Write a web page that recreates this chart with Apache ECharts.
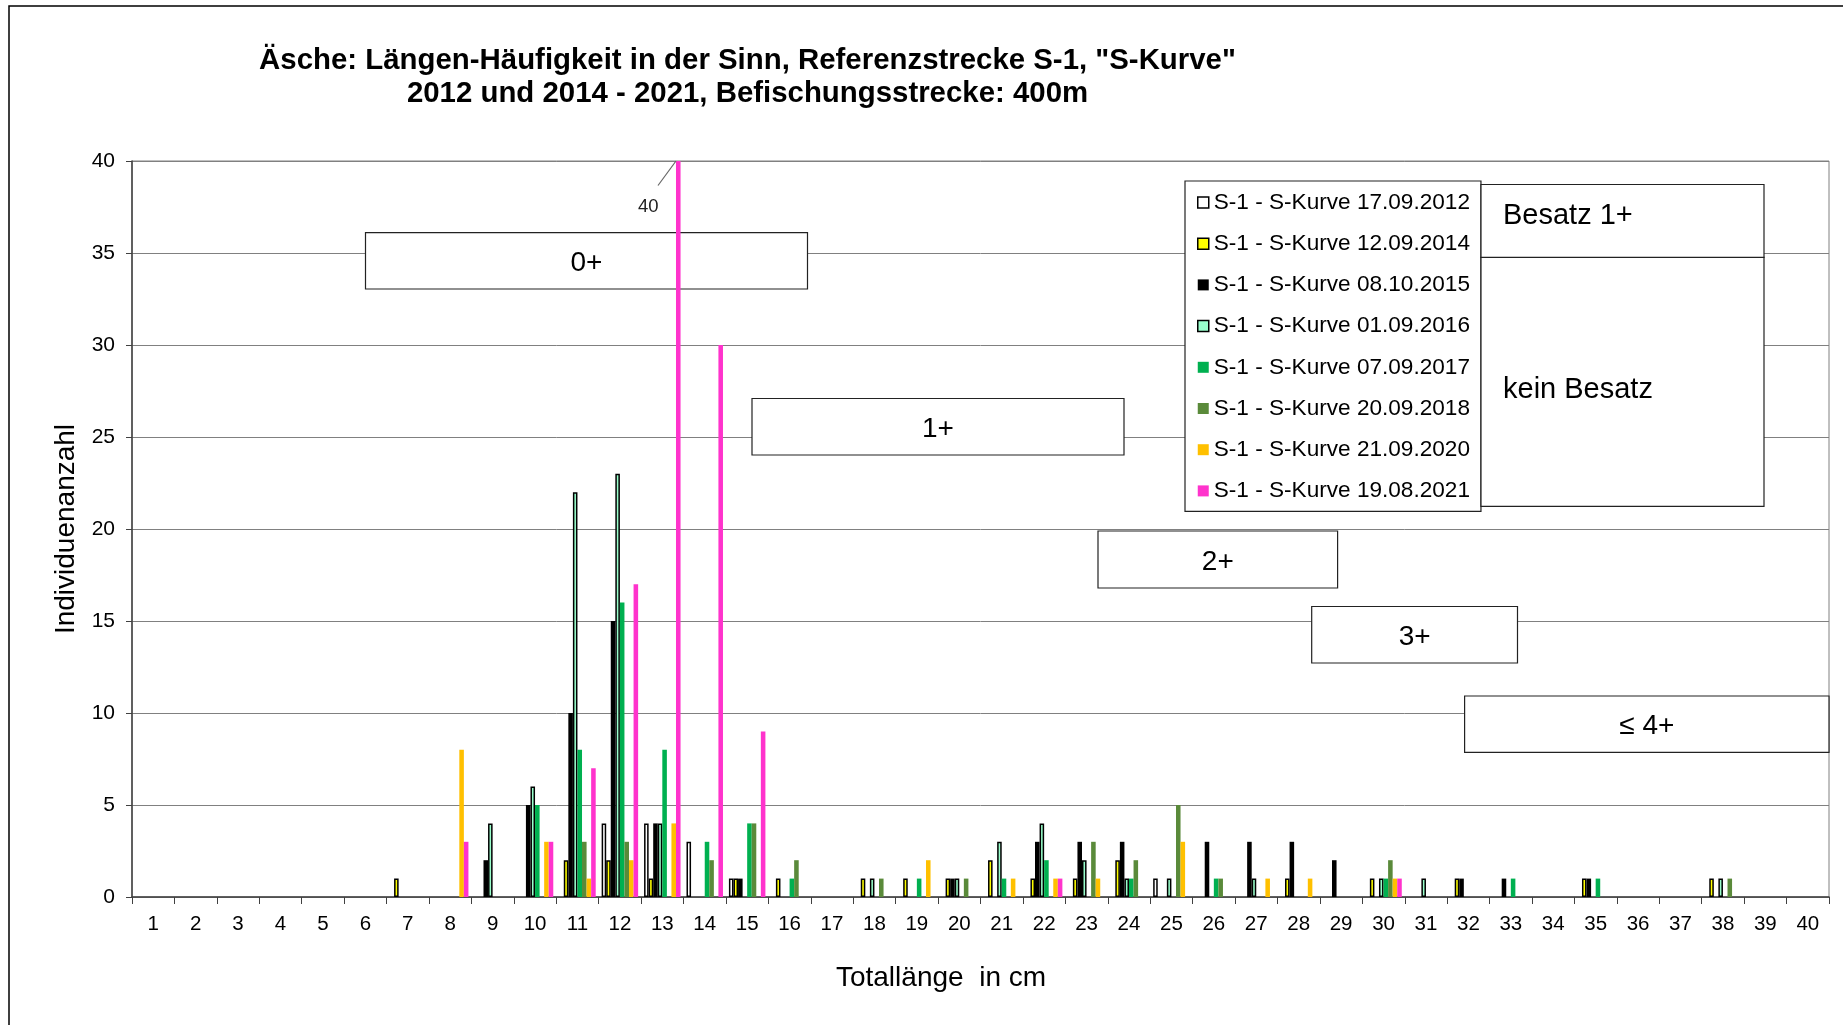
<!DOCTYPE html>
<html><head><meta charset="utf-8">
<script src="https://cdn.jsdelivr.net/npm/echarts@6/dist/echarts.min.js"></script>
<style>html,body{margin:0;padding:0;background:#fff}#c{width:1843px;height:1025px}</style>
</head><body><div id="c"></div>
<script>
const FONT = "'Liberation Sans', Arial, sans-serif";
const categories = ['1','2','3','4','5','6','7','8','9','10','11','12','13','14','15','16','17','18','19','20','21','22','23','24','25','26','27','28','29','30','31','32','33','34','35','36','37','38','39','40'];
const seriesNames = ['S-1 - S-Kurve 17.09.2012','S-1 - S-Kurve 12.09.2014','S-1 - S-Kurve 08.10.2015','S-1 - S-Kurve 01.09.2016','S-1 - S-Kurve 07.09.2017','S-1 - S-Kurve 20.09.2018','S-1 - S-Kurve 21.09.2020','S-1 - S-Kurve 19.08.2021'];
const s2012 = [0,0,0,0,0,0,0,0,0,0, 0,4,4,3,1,0,0,0,0,0, 0,0,0,0,1,0,0,0,0,0, 0,0,0,0,0,0,0,0,0,0];
const s2014 = [0,0,0,0,0,0,1,0,0,0, 2,2,1,0,1,1,0,1,1,1, 2,1,1,2,0,0,0,1,0,1, 0,1,0,0,1,0,0,1,0,0];
const s2015 = [0,0,0,0,0,0,0,0,2,5, 10,15,4,0,1,0,0,0,0,1, 0,3,3,3,0,3,3,3,2,0, 0,1,1,0,1,0,0,0,0,0];
const s2016 = [0,0,0,0,0,0,0,0,4,6, 22,23,4,0,0,0,0,1,0,1, 3,4,2,1,1,0,1,0,0,1, 1,0,0,0,0,0,0,1,0,0];
const s2017 = [0,0,0,0,0,0,0,0,0,5, 8,16,8,3,4,1,0,0,1,0, 1,2,0,1,0,1,0,0,0,1, 0,0,1,0,1,0,0,0,0,0];
const s2018 = [0,0,0,0,0,0,0,0,0,0, 3,3,0,2,4,2,0,1,0,1, 0,0,3,2,5,1,0,0,0,2, 0,0,0,0,0,0,0,1,0,0];
const s2020 = [0,0,0,0,0,0,0,8,0,3, 1,2,4,0,0,0,0,0,2,0, 1,1,1,0,3,0,1,1,0,1, 0,0,0,0,0,0,0,0,0,0];
const s2021 = [0,0,0,0,0,0,0,3,0,3, 7,17,40,30,9,0,0,0,0,0, 0,1,0,0,0,0,0,0,0,1, 0,0,0,0,0,0,0,0,0,0];
const ageLabels = ['0+','1+','2+','3+','\u2264 4+'];
const stockLabels = ['Besatz 1+','kein Besatz'];
const titleLines = ['\u00c4sche: L\u00e4ngen-H\u00e4ufigkeit in der Sinn, Referenzstrecke S-1, "S-Kurve"','2012 und 2014 - 2021, Befischungsstrecke: 400m'];
const xTitle = 'Totall\u00e4nge  in cm';
const yTitle = 'Individuenanzahl';

const allData = [s2012,s2014,s2015,s2016,s2017,s2018,s2020,s2021];
const styles = [
  {color:'#ffffff', borderColor:'#000', borderWidth:1.5},
  {color:'#ffff00', borderColor:'#000', borderWidth:1.5},
  {color:'#000000', borderColor:'#000', borderWidth:0},
  {color:'#99ffcc', borderColor:'#000', borderWidth:1.5},
  {color:'#00b050', borderWidth:0},
  {color:'#5a8a3a', borderWidth:0},
  {color:'#ffc000', borderWidth:0},
  {color:'#ff33cc', borderWidth:0}
];
const CAT_GAP = 0.14;
const series = allData.map((arr, i) => {
  const s = {
    name: seriesNames[i], type:'bar', barGap:'0%', barCategoryGap:(CAT_GAP*100)+'%',
    itemStyle: styles[i],
    emphasis:{disabled:true},
    data: arr.map(v => v === 0 ? null : v)
  };
  if (i === 7) {
    s.data = arr.map(v => v === 0 ? null : (v === 40 ? {value:v, label:{show:true}} : v));
    s.label = {show:false, position:'top', distance:4, fontFamily:FONT, fontSize:18.5, color:'#222', formatter:'{c}'};
    s.labelLayout = {dx:-30, dy:59};
  }
  return s;
});

function box(x, y, w, h, z) {
  return {type:'rect', z:z, shape:{x:x, y:y, width:w, height:h}, style:{fill:'#fff', stroke:'#222', lineWidth:1.2}};
}
function txt(x, y, t, size, align, z, weight) {
  return {type:'text', z:z, x:x, y:y, style:{text:t, font:(weight||'normal')+' '+size+'px '+FONT, fill:'#000', align:align, verticalAlign:'middle'}};
}

const chart = echarts.init(document.getElementById('c'));
chart.setOption({
  backgroundColor:'#fff',
  animation:false,
  grid:{left:132, right:14, top:161, bottom:128, show:true, borderColor:'#808080', borderWidth:1},
  legend:{
    orient:'vertical', left:1185, top:181, backgroundColor:'#fff', borderColor:'#222', borderWidth:1.2,
    padding:[10, 11, 9, 12], itemGap:18.2, itemWidth:11, itemHeight:11, icon:'rect',
    textStyle:{fontFamily:FONT, fontSize:22.6, color:'#000'},
    data: seriesNames.map((n, i) => ({name:n, itemStyle:{color:styles[i].color, borderColor:'#000', borderWidth: styles[i].borderWidth ? 1.5 : 0}})),
    selectedMode:false
  },
  xAxis:{
    type:'category', data:categories,
    axisLine:{lineStyle:{color:'#404040', width:1.5}},
    axisTick:{show:true, length:7, lineStyle:{color:'#404040'}},
    axisLabel:{fontFamily:FONT, fontSize:20.5, color:'#000', margin:17, interval:0}
  },
  yAxis:{
    type:'value', min:0, max:40, interval:5,
    axisLine:{show:true, lineStyle:{color:'#404040', width:1.5}},
    axisTick:{show:true, length:6, lineStyle:{color:'#404040'}},
    axisLabel:{fontFamily:FONT, fontSize:21, color:'#000', margin:17},
    splitLine:{lineStyle:{color:'#808080', width:1}},
    name:yTitle, nameLocation:'middle', nameGap:52,
    nameTextStyle:{fontFamily:FONT, fontSize:28, color:'#000'}
  },
  graphic:[
    {type:'rect', z:10, silent:true, shape:{x:9, y:6, width:1900, height:1100}, style:{fill:'none', stroke:'#000', lineWidth:1.5}},
    txt(747.5, 61.2, titleLines[0], 29.4, 'center', 10, 'bold'),
    txt(747.5, 94.1, titleLines[1], 29.4, 'center', 10, 'bold'),
    txt(941, 978.5, xTitle, 28, 'center', 10),
    box(365.5, 232.7, 442, 56.3, 1), txt(586.5, 263.4, ageLabels[0], 28, 'center', 1),
    box(752, 398.5, 372, 56.5, 1), txt(938, 429.4, ageLabels[1], 28, 'center', 1),
    box(1098, 531, 239.6, 57, 1), txt(1217.8, 561.9, ageLabels[2], 28, 'center', 1),
    box(1311.7, 606.5, 205.8, 56.5, 1), txt(1414.6, 637.4, ageLabels[3], 28, 'center', 1),
    box(1464.6, 696, 364.4, 56.4, 1), txt(1646.8, 726.4, ageLabels[4], 28, 'center', 1),
    box(1481, 184.5, 283, 73, 5), txt(1503, 216.4, stockLabels[0], 29, 'left', 5),
    box(1481, 257.4, 283, 249, 5), txt(1503, 390.4, stockLabels[1], 29, 'left', 5)
  ],
  series: series
});

// leader line for the "40" data label, anchored at the top-left corner of that bar
(function(){
  const idx = s2021.indexOf(40);
  const p = chart.convertToPixel({xAxisIndex:0, yAxisIndex:0}, [idx, s2021[idx]]);
  const p0 = chart.convertToPixel({xAxisIndex:0, yAxisIndex:0}, [0, 0]);
  const p1 = chart.convertToPixel({xAxisIndex:0, yAxisIndex:0}, [1, 0]);
  const band = p1[0] - p0[0];
  const bw = band * (1 - CAT_GAP) / 8;
  const barLeft = p[0] - band * (1 - CAT_GAP) / 2 + 7 * bw;
  chart.setOption({graphic:[{type:'line', id:'leader', z:10, silent:true,
    shape:{x1:barLeft - 18, y1:p[1] + 24.5, x2:barLeft, y2:p[1]},
    style:{stroke:'#666', lineWidth:1.2}}]});
})();
</script></body></html>
